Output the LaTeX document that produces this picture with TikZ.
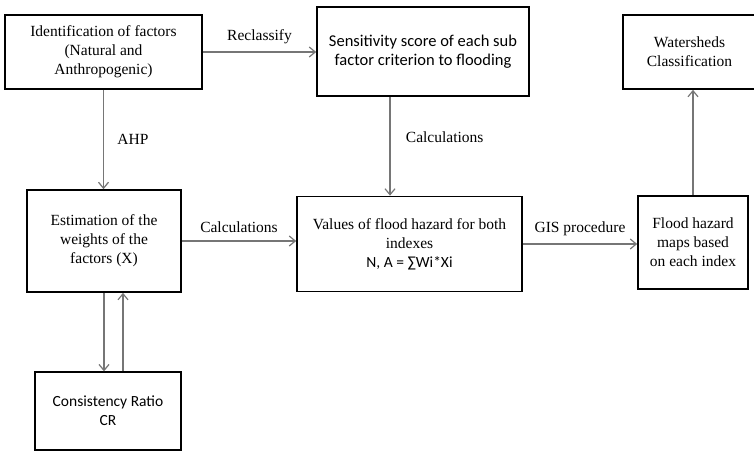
\documentclass[tikz,border=0pt]{standalone}
\usepackage{fontspec}
\setmainfont{Liberation Serif}
\newfontfamily\boxsans{Carlito}
\usetikzlibrary{arrows.meta, positioning, calc}

\definecolor{linegray}{RGB}{118,118,118}
\tikzset{
	box/.style={draw, line width=1.7pt, align=center, inner sep=2pt, font=\fontsize{15.5}{19}\selectfont},
	sbox/.style={box, font=\boxsans\fontsize{15.5}{19}\selectfont},
	flow/.style={draw=linegray, line width=1.2pt, -{Straight Barb[length=6pt,width=10pt]}},
	lbl/.style={font=\fontsize{15.5}{18}\selectfont}
}

\begin{document}
\begin{tikzpicture}[x=1pt, y=-1pt]
		\useasboundingbox (0,0) rectangle (754,452);
		%draw boxes of the top row
		\node[box, minimum width=197pt, minimum height=74pt] (ident) at (103.5,52) {Identification of factors\\(Natural and\\Anthropogenic)};
		\node[sbox, font=\boxsans\fontsize{16.5}{19}\selectfont, minimum width=212pt, minimum height=89pt] (sens) at (423,51.5) {Sensitivity score of each sub\\factor criterion to flooding};
		\node[box, minimum width=133pt, minimum height=74pt] (water) at (689.5,52) {Watersheds\\Classification};
		%draw boxes of the middle row
		\node[box, minimum width=154pt, minimum height=102pt] (estim) at (104,241) {Estimation of the\\weights of the\\factors (X)};
		\node[box, minimum width=225pt, minimum height=95pt] (values) at (409.5,244) {Values of flood hazard for both\\indexes\\{\boxsans N, A = ∑Wi*Xi}};
		\node[box, minimum width=110pt, minimum height=93pt] (maps) at (693,242.5) {Flood hazard\\maps based\\on each index};
		%draw box of the bottom row
		\node[sbox, line width=1.3pt, minimum width=146pt, minimum height=78pt] (consist) at (108,411) {Consistency Ratio\\CR};

		%draw arrows
		\draw[flow] (ident.east) -- (ident.east -| sens.west) node[lbl, midway, above=4pt] {Reclassify};
		\draw[flow] (ident.south) -- (ident.south |- estim.north) node[lbl, midway, right=10pt] {AHP};
		\draw[flow] ([xshift=-33pt]sens.south) -- ([xshift=-33pt]sens.south |- values.north) node[lbl, midway, above right=0pt and 12pt] {Calculations};
		\draw[flow] (estim.east) -- (estim.east -| values.west) node[lbl, midway, above=4pt] {Calculations};
		\draw[flow] (values.east) -- (values.east -| maps.west) node[lbl, midway, above=4pt] {GIS procedure};
		\draw[flow] (maps.north) -- (maps.north |- water.south);
		\draw[flow] (estim.south) -- (estim.south |- consist.north);
		\draw[flow] ([xshift=15pt]consist.north) -- ([xshift=15pt]consist.north |- estim.south);
\end{tikzpicture}
\end{document}
